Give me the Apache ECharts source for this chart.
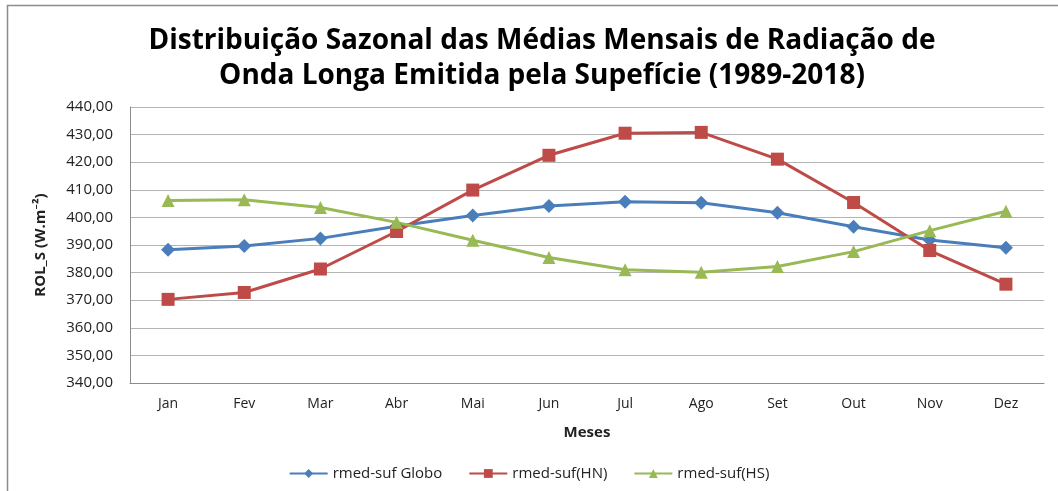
<!DOCTYPE html>
<html>
<head>
<meta charset="utf-8">
<script src="https://cdn.jsdelivr.net/npm/echarts@6/dist/echarts.min.js"></script>
<style>
  html, body { margin: 0; padding: 0; background: #fff; }
  #main { width: 1058px; height: 491px; }
</style>
</head>
<body>
<div id="main"></div>
<script>
    // dados
    var meses = ['Jan', 'Fev', 'Mar', 'Abr', 'Mai', 'Jun', 'Jul', 'Ago', 'Set', 'Out', 'Nov', 'Dez'];
    var globo = [388.3, 389.6, 392.4, 396.8, 400.7, 404.1, 405.7, 405.3, 401.7, 396.6, 391.8, 389.0];
    var hn = [370.3, 372.8, 381.3, 394.9, 409.9, 422.5, 430.5, 430.8, 421.1, 405.4, 388.0, 375.8];
    var hs = [406.1, 406.4, 403.6, 398.2, 391.7, 385.5, 381.0, 380.1, 382.2, 387.6, 395.2, 402.2];

    var fonte = 'Open Sans, Noto Sans, sans-serif';

    var myChart = echarts.init(document.getElementById('main'));

    function serie(nome, dados, cor, simbolo) {
        return {
            name: nome,
            type: 'line',
            data: dados,
            symbol: simbolo,
            symbolSize: simbolo == 'diamond' ? 14 : 13,
            lineStyle: { width: 3, color: cor },
            itemStyle: { color: cor },
            emphasis: { disabled: true },
            animation: false
        };
    }

    var option = {
        backgroundColor: '#fff',
        graphic: [{
            type: 'rect',
            shape: { x: 7.5, y: 5.5, width: 1060, height: 500 },
            style: { fill: 'none', stroke: '#8c8c8c', lineWidth: 1.5 },
            silent: true
        }],
        title: {
            text: 'Distribuição Sazonal das Médias Mensais de Radiação de\nOnda Longa Emitida pela Supefície (1989-2018)',
            left: 537,
            top: 19,
            textAlign: 'center',
            textStyle: {
                fontFamily: fonte,
                fontSize: 28,
                fontWeight: 'bold',
                color: '#000',
                lineHeight: 35
            }
        },
        legend: {
            bottom: 5,
            left: 'center',
            itemWidth: 38,
            itemHeight: 11,
            itemGap: 26,
            textStyle: { fontFamily: fonte, fontSize: 15, color: '#222' },
            data: ['rmed-suf Globo', 'rmed-suf(HN)', 'rmed-suf(HS)']
        },
        grid: {
            left: 130,
            right: 14,
            top: 107,
            bottom: 108
        },
        xAxis: {
            type: 'category',
            data: meses,
            name: 'Meses',
            nameLocation: 'middle',
            nameGap: 42,
            nameTextStyle: { fontFamily: fonte, fontSize: 15, fontWeight: 'bold', color: '#222' },
            axisLine: { lineStyle: { color: '#8c8c8c', width: 1 } },
            axisTick: { show: false },
            axisLabel: { fontFamily: fonte, fontSize: 14, color: '#222', margin: 14 }
        },
        yAxis: {
            type: 'value',
            min: 340,
            max: 440,
            interval: 10,
            name: 'ROL_S (W.m⁻²)',
            nameLocation: 'middle',
            nameGap: 82,
            nameTextStyle: { fontFamily: fonte, fontSize: 15, fontWeight: 'bold', color: '#222' },
            axisLine: { show: true, lineStyle: { color: '#8c8c8c', width: 1 } },
            axisTick: { show: false },
            splitLine: { lineStyle: { color: '#b4b4b4', width: 1.2 } },
            axisLabel: {
                fontFamily: fonte,
                fontSize: 15,
                color: '#222',
                margin: 17,
                formatter: function (v) {
                    return v.toFixed(2).replace('.', ',');
                }
            }
        },
        series: [
            serie('rmed-suf Globo', globo, '#4a7ebb', 'diamond'),
            serie('rmed-suf(HN)', hn, '#be4b48', 'rect'),
            serie('rmed-suf(HS)', hs, '#98b954', 'triangle')
        ]
    };

    myChart.setOption(option);
</script>
</body>
</html>
